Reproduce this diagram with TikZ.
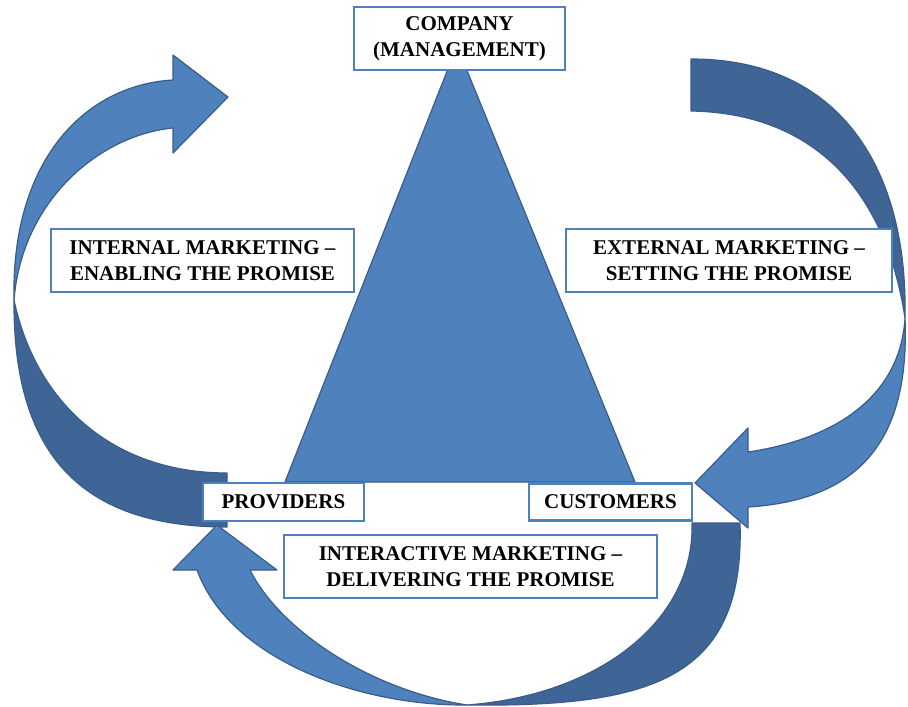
\documentclass[tikz,border=0pt]{standalone}
\usepackage{fontspec}
\setmainfont{Liberation Serif}
\definecolor{lightblue}{RGB}{79,129,189}
\definecolor{darkblue}{RGB}{62,101,150}
\definecolor{edgeblue}{RGB}{56,93,138}
\begin{document}
\begin{tikzpicture}[x=1pt,y=-1pt,
  labelbox/.style={draw=lightblue, line width=2.5pt, fill=white, inner sep=0pt, align=center,
    font=\fontsize{21}{26}\selectfont\bfseries},
  lightpart/.style={fill=lightblue, draw=edgeblue, line width=1.2pt, line join=round},
  darkpart/.style={fill=darkblue, draw=edgeblue, line width=1.2pt, line join=round}]
\useasboundingbox (0,0) rectangle (908,707);
\fill[white] (0,0) rectangle (908,707);

% central triangle
\draw[lightpart] (457,46) -- (285,482) -- (635,482) -- cycle;

% left curved arrow (internal marketing)
\draw[darkpart] (14,300) .. controls (35,400) and (110,473) .. (227,473) -- (227,527)
  .. controls (77,527) and (13,450) .. (14,300) -- cycle;
\draw[lightpart] (14,300) .. controls (11,160) and (85,85) .. (173,80) -- (173,55) -- (228,97)
  -- (173,153) -- (173,128) .. controls (100,135) and (22,200) .. (14,300) -- cycle;

% bottom curved arrow (interactive marketing)
\draw[darkpart] (692,523) -- (740,523) .. controls (745,680) and (650,707) .. (467,705)
  .. controls (600,695) and (695,620) .. (692,523) -- cycle;
\draw[lightpart] (467,705) .. controls (360,706) and (230,660) .. (197,570) -- (173,570)
  -- (217,525) -- (277,570) -- (250,570) .. controls (280,630) and (370,690) .. (467,705) -- cycle;

% right curved arrow (external marketing)
\draw[darkpart] (691,59) .. controls (841,59) and (908,170) .. (905,318)
  .. controls (885,186) and (810,113) .. (691,111) -- cycle;
\draw[lightpart] (905,318) .. controls (910,440) and (860,500) .. (748,507) -- (748,528)
  -- (695,483) -- (748,428) -- (748,452) .. controls (830,440) and (900,400) .. (905,318) -- cycle;

% labels
\node[labelbox, minimum width=211pt, minimum height=63pt] (company) at (459.5,38.5) {COMPANY\\(MANAGEMENT)};
\node[labelbox, minimum width=303pt, minimum height=63pt] (internal) at (202.5,260.5) {INTERNAL MARKETING \textendash\\ENABLING THE PROMISE};
\node[labelbox, minimum width=326pt, minimum height=63pt] (external) at (729,260.5) {EXTERNAL MARKETING \textendash\\SETTING THE PROMISE};
\node[labelbox, minimum width=161pt, minimum height=38pt] (providers) at (283.5,502) {PROVIDERS};
\node[labelbox, minimum width=163pt, minimum height=37pt] (customers) at (610.5,502) {CUSTOMERS};
\node[labelbox, minimum width=373pt, minimum height=63pt] (interactive) at (470.5,566.5) {INTERACTIVE MARKETING \textendash\\DELIVERING THE PROMISE};
\end{tikzpicture}
\end{document}
